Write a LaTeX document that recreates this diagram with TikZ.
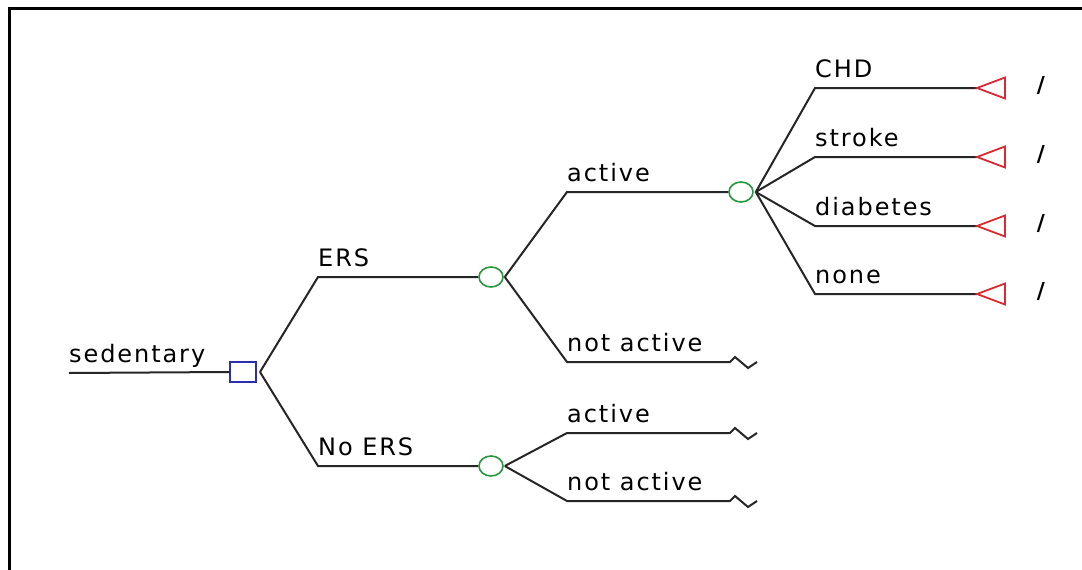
\documentclass[tikz,border=0pt]{standalone}
\usepackage{fontspec}
\setmainfont{DejaVu Sans}[LetterSpace=8]
\usetikzlibrary{shapes.geometric}
\definecolor{decblue}{RGB}{45,45,175}
\definecolor{chgreen}{RGB}{40,150,60}
\definecolor{termred}{RGB}{220,40,50}
\begin{document}
\begin{tikzpicture}[x=1pt,y=-1pt,
  branch/.style={draw=black!85,line width=2pt},
  decision/.style={draw=decblue,rectangle,minimum width=26pt,minimum height=20pt,inner sep=0pt,line width=2pt},
  chance/.style={draw=chgreen,ellipse,minimum width=24pt,minimum height=20pt,inner sep=0pt,line width=1.6pt},
  terminal/.style={draw=termred,line width=1.8pt,line join=miter},
  lbl/.style={anchor=base west,inner sep=0pt,font=\fontsize{24}{24}\selectfont},
  slash/.style={anchor=base,inner sep=0pt,font=\fontsize{22}{22}\selectfont\bfseries}]
\useasboundingbox (0,0) rectangle (1082,570);
\fill[white] (0,0) rectangle (1082,570);
% frame
\draw[line width=3pt] (9,570) -- (9,8) -- (1082,8);

% nodes
\coordinate (root) at (69,373);
\node[decision] (D) at (243,372) {};
\coordinate (e1) at (318,277);
\coordinate (e2) at (318,466);
\node[chance] (C1) at (491,277) {};
\node[chance] (C2) at (491,466) {};
\coordinate (a1) at (567,192);
\coordinate (n1) at (567,362);
\coordinate (a2) at (567,433);
\coordinate (n2) at (567,501);
\node[chance] (C3) at (741,192) {};
\coordinate (z1) at (730,362);
\coordinate (z2) at (730,433);
\coordinate (z3) at (730,501);
\coordinate (o1) at (815,88);
\coordinate (o2) at (815,157);
\coordinate (o3) at (815,226);
\coordinate (o4) at (815,294);
\coordinate (t1) at (977,88);
\coordinate (t2) at (977,157);
\coordinate (t3) at (977,226);
\coordinate (t4) at (977,294);

% labels
\node[lbl] (Lsed) at ([yshift=11pt]root) {sedentary};
\node[lbl] (Lers) at ([yshift=11pt]e1) {ERS};
\node[lbl] (Lnoers) at ([yshift=11pt]e2) {No ERS};
\node[lbl] (La1) at ([yshift=11pt]a1) {active};
\node[lbl] (Ln1) at ([yshift=11pt]n1) {not active};
\node[lbl] (La2) at ([yshift=11pt]a2) {active};
\node[lbl] (Ln2) at ([yshift=11pt]n2) {not active};
\node[lbl] (Lchd) at ([yshift=11pt]o1) {CHD};
\node[lbl] (Lstr) at ([yshift=11pt]o2) {stroke};
\node[lbl] (Ldia) at ([yshift=11pt]o3) {diabetes};
\node[lbl] (Lnon) at ([yshift=11pt]o4) {none};

% connectors
\draw[branch] (root) -- (D.west);
\draw[branch] ([xshift=3pt]D.east) -- (e1) -- (C1.west);
\draw[branch] ([xshift=3pt]D.east) -- (e2) -- (C2.west);
\draw[branch] ([xshift=1pt]C1.east) -- (a1) -- (C3.west);
\draw[branch] ([xshift=1pt]C1.east) -- (n1) -- (z1) -- ++(5,-5) -- ++(13,11) -- ++(9,-6);
\draw[branch] ([xshift=1pt]C2.east) -- (a2) -- (z2) -- ++(5,-5) -- ++(13,11) -- ++(9,-6);
\draw[branch] ([xshift=1pt]C2.east) -- (n2) -- (z3) -- ++(5,-5) -- ++(13,11) -- ++(9,-6);
\foreach \i in {1,2,3,4}{
  \draw[branch] ([xshift=2pt]C3.east) -- (o\i) -- (t\i);
  \draw[terminal] (t\i) -- ++(28,-10.5) -- ++(0,21) -- cycle;
  \node[slash] (s\i) at ([xshift=64pt,yshift=-4.5pt]t\i) {/};
}
\end{tikzpicture}
\end{document}
